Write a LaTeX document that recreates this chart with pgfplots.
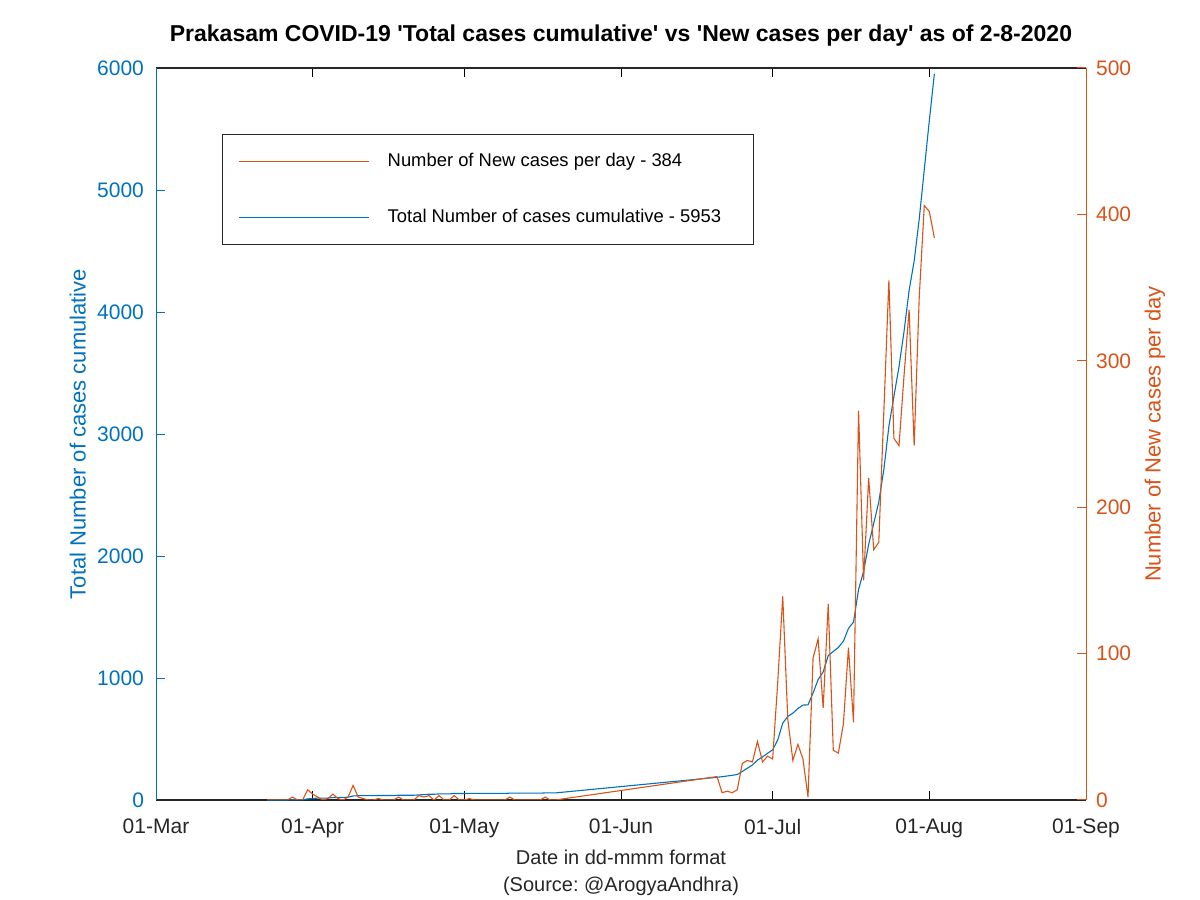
\documentclass[border=0pt]{standalone}
\usepackage{pgfplots}
\pgfplotsset{compat=1.18}
\usepackage{fontspec}
\setmainfont{Liberation Sans}
\frenchspacing

\definecolor{mblue}{HTML}{0072BD}
\definecolor{morange}{HTML}{D95319}
\definecolor{mgray}{HTML}{262626}

% days counted from 01-Mar-2020 (day 0)
\begin{document}
\begin{tikzpicture}
\path[use as bounding box] (0,0) rectangle (600pt,450pt);

\pgfplotsset{
  common/.style={
    at={(78pt,50pt)}, anchor=south west,
    width=465pt, height=366pt, scale only axis,
    xmin=0, xmax=184,
    tick align=inside,
    major tick length=4.5pt,
    clip mode=individual,
    /pgf/number format/assume math mode=true,
    /pgf/number format/1000 sep={},
    tick label style={font=\fontsize{10.5}{12}\selectfont},
    label style={font=\fontsize{11}{14}\selectfont},
  }
}

\begin{axis}[common,
  ymin=0, ymax=6000,
  ytick={0,1000,...,6000},
  axis x line=box,
  axis y line*=left,
  x axis line style={draw=mgray, line width=0.6pt},
  y axis line style={draw=mblue, line width=0.5pt},
  xtick={0,31,61,92,122,153,184},
  xticklabels={01-Mar,01-Apr,01-May,01-Jun,01-Jul,01-Aug,01-Sep},
  x tick style={draw=black, line width=0.5pt},
  y tick style={draw=mblue, line width=0.5pt},
  xticklabel style={text=mgray, yshift=-6pt},
  yticklabel style={text=mblue, xshift=-2.5pt},
  ylabel={Total Number of cases cumulative},
  ylabel style={text=mblue, at={(axis description cs:-0.084,0.5)}, anchor=center},
  xlabel={Date in dd-mmm format\\[1.8pt](Source: @ArogyaAndhra)},
  xlabel style={text=mgray, align=center, at={(axis description cs:0.5,-0.0995)}, anchor=center},
]
\addplot[mblue, line width=0.55pt] coordinates {
(22,0) (23,0) (24,0) (25,0) (26,0) (27,2) (28,2) (29,2) (30,9) (31,13)
(32,15) (33,15) (34,16) (35,20) (36,21) (37,21) (38,23) (39,33) (40,35) (41,36)
(42,36) (43,36) (44,37) (45,37) (46,37) (47,37) (48,39) (49,39) (50,39) (51,39)
(52,42) (53,44) (54,47) (55,47) (56,50) (57,50) (58,50) (59,53) (60,53) (61,53)
(62,54) (63,54) (64,54) (65,54) (66,54) (67,54) (68,54) (69,54) (70,56) (71,56)
(72,56) (73,56) (74,56) (75,56) (76,56) (77,58) (78,58) (79,58)
(111,186) (112,191) (113,197) (114,202) (115,209) (116,234) (117,261) (118,287)
(119,327) (120,353) (121,383) (122,411) (123,491) (124,630) (125,685) (126,712)
(127,750) (128,778) (129,780) (130,877) (131,987) (132,1050) (133,1184) (134,1218)
(135,1250) (136,1302) (137,1406) (138,1459) (139,1725) (140,1875) (141,2095)
(142,2266) (143,2442) (144,2707) (145,3062) (146,3309) (147,3551) (148,3841)
(149,4176) (150,4418) (151,4761) (152,5167) (153,5569) (154,5953)
};
\node[font=\fontsize{11.5}{13}\selectfont\bfseries, text=black] at (axis description cs:0.5,1.045)
  {Prakasam COVID-19 \textquotesingle Total cases cumulative\textquotesingle\ vs \textquotesingle New cases per day\textquotesingle\ as of 2-8-2020};
\end{axis}

\begin{axis}[common,
  ymin=0, ymax=500,
  ytick={0,100,...,500},
  hide x axis,
  axis y line*=right,
  y axis line style={draw=morange, line width=0.5pt},
  y tick style={draw=morange, line width=0.5pt},
  yticklabel style={text=morange, xshift=1.5pt},
  ylabel={Number of New cases per day},
  ylabel style={text=morange, at={(axis description cs:1.074,0.5)}, anchor=center},
  legend cell align=left,
  legend style={at={(axis description cs:0.071,0.91)}, anchor=north west,
    draw=mgray, line width=0.5pt, fill=white,
    font=\fontsize{9.2}{11}\selectfont,
    inner xsep=8pt, inner ysep=7pt, row sep=15pt, column sep=8pt,
    nodes={inner sep=1pt, minimum height=13pt}},
]
\addlegendimage{legend image code/.code={\draw[morange, line width=0.6pt] (0pt,0pt) -- (65pt,0pt);}}
\addlegendimage{legend image code/.code={\draw[mblue, line width=0.6pt] (0pt,0pt) -- (65pt,0pt);}}
\addplot[draw=morange, line width=0.55pt, forget plot] coordinates {
(22,0) (23,0) (24,0) (25,0) (26,0) (27,2) (28,0) (29,0) (30,7) (31,4)
(32,2) (33,0) (34,1) (35,4) (36,1) (37,0) (38,2) (39,10) (40,2) (41,1)
(42,0) (43,0) (44,1) (45,0) (46,0) (47,0) (48,2) (49,0) (50,0) (51,0)
(52,3) (53,2) (54,3) (55,0) (56,3) (57,0) (58,0) (59,3) (60,0) (61,0)
(62,1) (63,0) (64,0) (65,0) (66,0) (67,0) (68,0) (69,0) (70,2) (71,0)
(72,0) (73,0) (74,0) (75,0) (76,0) (77,2) (78,0) (79,0)
(111,16) (112,5) (113,6) (114,5) (115,7) (116,25) (117,27) (118,26)
(119,40) (120,26) (121,30) (122,28) (123,80) (124,139) (125,55) (126,27)
(127,38) (128,28) (129,2) (130,97) (131,110) (132,63) (133,134) (134,34)
(135,32) (136,52) (137,104) (138,53) (139,266) (140,150) (141,220)
(142,171) (143,176) (144,265) (145,355) (146,247) (147,242) (148,290)
(149,335) (150,242) (151,343) (152,406) (153,402) (154,384)
};
\legend{\makebox[174pt][l]{Number of New cases per day - 384},
        \makebox[174pt][l]{Total Number of cases cumulative - 5953}}
\end{axis}
\end{tikzpicture}
\end{document}
